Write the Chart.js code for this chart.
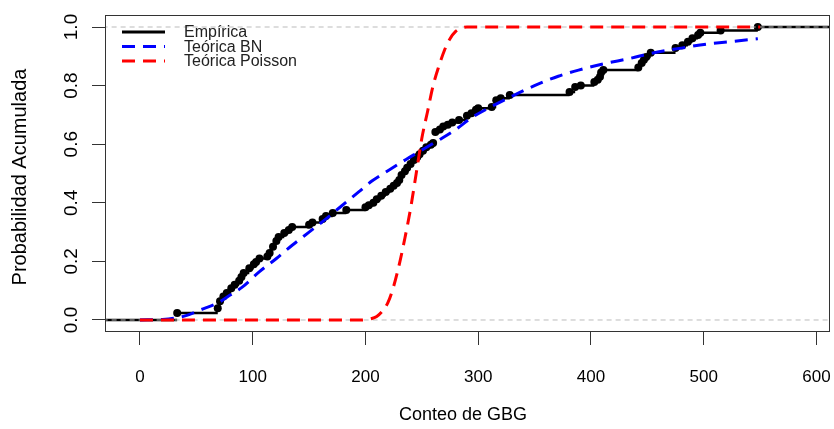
<!DOCTYPE html>
<html><head><meta charset="utf-8">
<script src="https://cdn.jsdelivr.net/npm/chart.js@4/dist/chart.umd.min.js"></script>
<style>html,body{margin:0;padding:0;background:#fff}#wrap{width:834px;height:429px;position:relative}</style>
</head><body><div id="wrap"><canvas id="c"></canvas></div>
<script>
// ---- data ----
const empX = [33,69,71,74,77,81,84,88,90,92,97,101,103,106,113,115,118,121,123,128,132,135,150,153,162,165,171,183,200,203,207,210,214,218,222,225,228,230,232,235,237,240,243,246,248,251,254,258,260,262,266,269,273,277,283,290,294,298,300,312,316,320,328,381,386,391,403,406,408,409,411,442,445,447,449,453,475,481,486,490,495,497,515,548];
const empY = [0.024,0.040,0.064,0.080,0.092,0.108,0.120,0.134,0.147,0.160,0.177,0.190,0.198,0.210,0.217,0.229,0.250,0.270,0.283,0.297,0.307,0.317,0.325,0.333,0.345,0.355,0.365,0.375,0.385,0.392,0.400,0.412,0.424,0.437,0.448,0.458,0.468,0.478,0.495,0.508,0.520,0.532,0.546,0.556,0.566,0.578,0.590,0.598,0.604,0.642,0.650,0.660,0.666,0.674,0.683,0.697,0.706,0.718,0.723,0.727,0.750,0.757,0.768,0.778,0.795,0.800,0.812,0.820,0.830,0.845,0.853,0.862,0.877,0.888,0.898,0.912,0.928,0.938,0.950,0.962,0.973,0.980,0.988,1.0];
const bnX = [0,20,30,40,56,69,80,91,106,121,135,150,165,179,194,206,221,236,247,265,280,294,315,336,353,371,389,412,435,453,480,503,524,548];
const bnY = [0,0.002,0.006,0.014,0.038,0.058,0.085,0.113,0.165,0.21,0.255,0.30,0.345,0.39,0.437,0.475,0.512,0.548,0.573,0.614,0.65,0.69,0.735,0.775,0.805,0.832,0.853,0.875,0.893,0.91,0.928,0.942,0.95,0.96];
const poisX = [0,195,200,205,210,215,220,225,230,235,240,245,250,255,260,265,270,275,280,285,290,550];
const poisY = [0,0,0.001,0.004,0.012,0.03,0.06,0.115,0.19,0.28,0.38,0.50,0.62,0.71,0.80,0.865,0.92,0.96,0.985,0.996,1.0,1.0];
const xTicks = [0,100,200,300,400,500,600];
const xTickLabels = ['0','100','200','300','400','500','600'];
const yTicks = [0,0.2,0.4,0.6,0.8,1.0];
const yTickLabels = ['0.0','0.2','0.4','0.6','0.8','1.0'];
const refLevels = [0,1];
const legendLabels = ['Empírica','Teórica BN','Teórica Poisson'];
const xTitle = 'Conteo de GBG';
const yTitle = 'Probabilidad Acumulada';
const xMin = -31, xMax = 612, yMin = -0.041, yMax = 1.041;

// ---- derived structures ----
const pts = (xs, ys) => xs.map((x, i) => ({x: x, y: ys[i]}));
const ecdfSegs = [{x: xMin - 50, y: 0}, {x: empX[0], y: 0}, {x: empX[0], y: null}];
empX.forEach((x, i) => {
  const nx = i + 1 < empX.length ? empX[i + 1] : xMax + 50;
  ecdfSegs.push({x: x, y: empY[i]}, {x: nx, y: empY[i]}, {x: nx, y: null});
});
const refSegs = [];
refLevels.forEach(l => refSegs.push({x: xMin - 50, y: l}, {x: xMax + 50, y: l}, {x: xMax + 50, y: null}));

const FONT = '"Liberation Sans", Arial, sans-serif';
const rPlugin = {
  id: 'rstyle',
  afterDatasetsDraw(chart) {
    const {ctx, chartArea: a, scales} = chart;
    ctx.save();
    ctx.strokeStyle = '#333'; ctx.lineWidth = 1;
    ctx.strokeRect(a.left + 0.5, a.top + 0.5, a.right - a.left - 1, a.bottom - a.top - 1);
    ctx.fillStyle = '#000';
    // x tick labels
    ctx.font = '17px ' + FONT; ctx.textAlign = 'center'; ctx.textBaseline = 'middle';
    xTicks.forEach((v, i) => ctx.fillText(xTickLabels[i], scales.x.getPixelForValue(v), 377));
    // y tick labels rotated
    ctx.font = '19px ' + FONT;
    yTicks.forEach((v, i) => {
      ctx.save(); ctx.translate(72, scales.y.getPixelForValue(v)); ctx.rotate(-Math.PI / 2);
      ctx.fillText(yTickLabels[i], 0, 0); ctx.restore();
    });
    // titles
    ctx.font = '18px ' + FONT;
    ctx.fillText(xTitle, 463, 415);
    ctx.save(); ctx.translate(20, 177); ctx.rotate(-Math.PI / 2);
    ctx.font = '20px ' + FONT; ctx.fillText(yTitle, 0, 0); ctx.restore();
    // legend
    const cols = ['#000', '#0000ff', '#ff0000'];
    const rows = [32, 46.5, 61];
    legendLabels.forEach((t, i) => {
      ctx.beginPath(); ctx.strokeStyle = cols[i];
      ctx.lineWidth = 3; ctx.setLineDash(i === 0 ? [] : [13, 8]);
      ctx.moveTo(122, rows[i]); ctx.lineTo(165, rows[i]); ctx.stroke();
      ctx.setLineDash([]);
      ctx.fillStyle = '#222'; ctx.font = '16px ' + FONT;
      ctx.textAlign = 'left'; ctx.textBaseline = 'middle';
      ctx.fillText(t, 184, rows[i] + 1);
    });
    ctx.restore();
  }
};

new Chart(document.getElementById('c'), {
  type: 'scatter',
  data: {datasets: [
    {data: pts(poisX, poisY), showLine: true, borderColor: '#ff0000', borderWidth: 3, borderDash: [13, 8],
     pointRadius: 0, cubicInterpolationMode: 'monotone', order: 0},
    {data: pts(bnX, bnY), showLine: true, borderColor: '#0000ff', borderWidth: 3, borderDash: [13, 8],
     pointRadius: 0, cubicInterpolationMode: 'monotone', order: 1},
    {data: refSegs, showLine: true, borderColor: '#bbbbbb', borderWidth: 1, borderDash: [5, 4],
     pointRadius: 0, spanGaps: false, order: 2, clip: 0},
    {data: pts(empX, empY), showLine: false, pointRadius: 4, pointBackgroundColor: '#000',
     pointBorderWidth: 0, order: 3},
    {data: ecdfSegs, showLine: true, borderColor: '#000', borderWidth: 2.5, pointRadius: 0,
     spanGaps: false, order: 4, clip: 0}
  ]},
  options: {
    responsive: true, maintainAspectRatio: false, animation: false,
    layout: {padding: {top: 15, right: 1, left: 0, bottom: 0}},
    plugins: {legend: {display: false}, tooltip: {enabled: false}},
    scales: {
      x: {type: 'linear', min: xMin, max: xMax,
        afterBuildTicks: s => { s.ticks = xTicks.map(v => ({value: v})); },
        afterFit: s => { s.height = 97; },
        ticks: {display: false},
        grid: {display: true, drawOnChartArea: false, drawTicks: true, tickLength: 13, color: '#333'},
        border: {display: false}},
      y: {type: 'linear', min: yMin, max: yMax,
        afterBuildTicks: s => { s.ticks = yTicks.map(v => ({value: v})); },
        afterFit: s => { s.width = 105; },
        ticks: {display: false},
        grid: {display: true, drawOnChartArea: false, drawTicks: true, tickLength: 13, color: '#333'},
        border: {display: false}}
    }
  },
  plugins: [rPlugin]
});
</script></body></html>
